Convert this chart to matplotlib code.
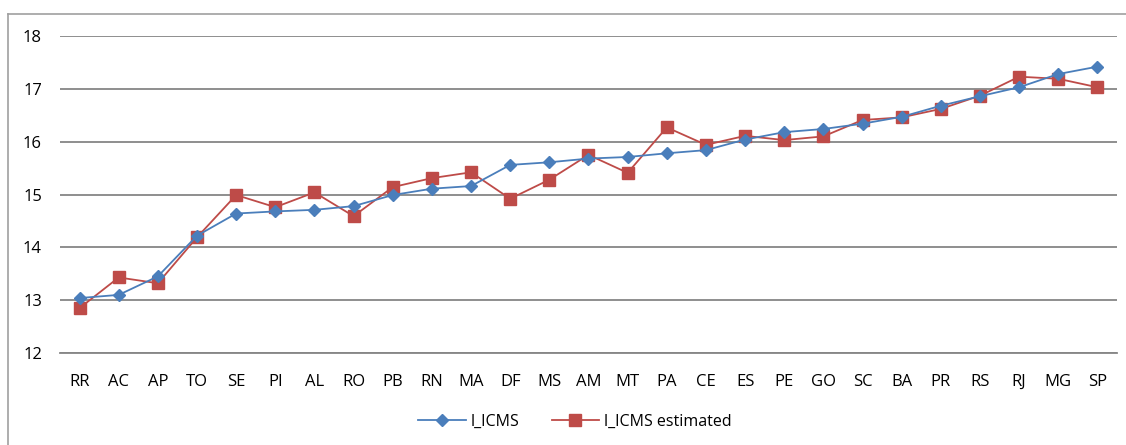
import matplotlib
matplotlib.use("Agg")
import matplotlib.pyplot as plt
from matplotlib.lines import Line2D

states = ["RR", "AC", "AP", "TO", "SE", "PI", "AL", "RO", "PB", "RN", "MA", "DF", "MS", "AM",
          "MT", "PA", "CE", "ES", "PE", "GO", "SC", "BA", "PR", "RS", "RJ", "MG", "SP"]
l_icms = [13.04, 13.10, 13.45, 14.22, 14.64, 14.68, 14.71, 14.78, 14.99, 15.11, 15.16, 15.56, 15.61, 15.68,
          15.71, 15.78, 15.84, 16.04, 16.18, 16.24, 16.34, 16.47, 16.68, 16.86, 17.03, 17.28, 17.42]
l_icms_est = [12.85, 13.43, 13.32, 14.19, 14.99, 14.76, 15.04, 14.59, 15.14, 15.31, 15.42, 14.92, 15.28, 15.75,
              15.41, 16.27, 15.94, 16.11, 16.03, 16.10, 16.41, 16.46, 16.62, 16.87, 17.23, 17.19, 17.03]

plt.rcParams['font.family'] = ['Open Sans', 'DejaVu Sans']

fig = plt.figure(figsize=(11.26, 4.45), dpi=100)
ax = fig.add_axes([60 / 1126, 92 / 445, 1057 / 1126, 317 / 445])

x = range(len(states))
ax.plot(x, l_icms, color="#4a7ebb", marker="D", markersize=6.5, linewidth=1.3,
        markeredgecolor="#4a7ebb", label="l_ICMS", zorder=4)
ax.plot(x, l_icms_est, color="#be4b48", marker="s", markersize=8.5, linewidth=1.3,
        markeredgecolor="#be4b48", label="l_ICMS estimated", zorder=3)

ax.set_xlim(-0.5, len(states) - 0.5)
ax.set_ylim(12, 18)
ax.set_yticks(range(12, 19))
ax.set_xticks(list(x))
ax.set_xticklabels(states)
ax.grid(axis="y", color="#868686", linewidth=1.3)
ax.set_axisbelow(True)
for s in ["left", "right", "top"]:
    ax.spines[s].set_visible(False)
ax.spines["bottom"].set_color("#868686")
ax.spines["bottom"].set_linewidth(1.3)
ax.tick_params(axis="both", length=0, labelsize=12, colors="black")
ax.tick_params(axis="y", pad=13)
ax.tick_params(axis="x", pad=15)

fig.legend(loc="center", bbox_to_anchor=(575 / 1126, 1 - 422 / 445), ncol=2, frameon=False,
           fontsize=11.5, handlelength=3, columnspacing=2, handletextpad=0.3)

# chart frame: left and top edges only
frame = "#a0a0a0"
fig.add_artist(Line2D([8 / 1126, 8 / 1126], [0, 1 - 14 / 445], transform=fig.transFigure,
                      color=frame, linewidth=1.2))
fig.add_artist(Line2D([8 / 1126, 1], [1 - 14 / 445, 1 - 14 / 445], transform=fig.transFigure,
                      color=frame, linewidth=1.2))

fig.savefig("out.png", dpi=100)
